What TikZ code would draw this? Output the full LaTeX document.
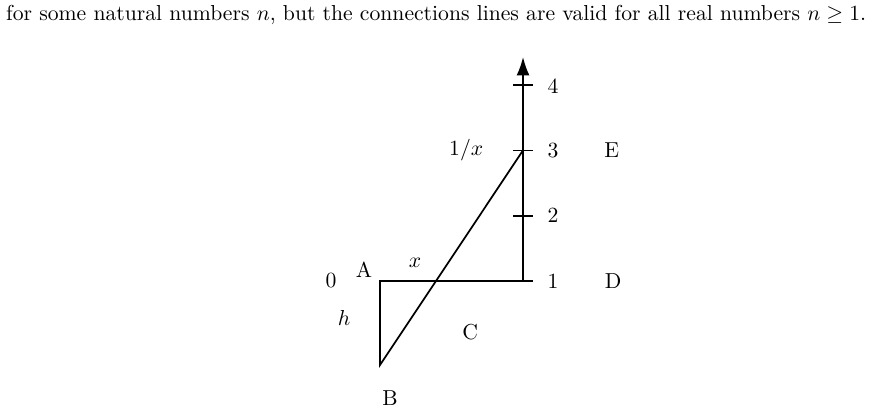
\documentclass[tikz,border=0pt]{standalone}
\usepackage{amsmath}
\usepackage{amssymb}
\usepackage{tikz}
\usetikzlibrary{arrows.meta}

\begin{document}
\begin{tikzpicture}[x=1.06cm,y=1.06cm]
                      \useasboundingbox (-5.819,-2.052) rectangle (7.534,4.303);
                      \tikzstyle{point}=[inner sep=0pt,minimum size=0pt]
                      \tikzstyle{tickmark}=[thick]
                      \node[point] (a) at (0,0) {};
                      \node[point] (b) at (0,-1.286) {};
                      \node[point] (d) at (2.19,0) {};
                      \node[point] (f) at (2.19,1) {};
                      \node[point] (e) at (2.19,2) {};
                      \node[point] (g) at (2.19,3) {};
                      \node[point] (top) at (2.19,3.43) {};
                      \draw[thick,-{Latex[length=8.5pt,width=6pt]}] (d.center) -- (top.center);
                      \draw[thick] (d.center) -- (a.center) -- (b.center) -- (e.center);
                      \foreach \t in {d,f,e,g}
                        \draw[tickmark] (\t.center) ++(-0.15,0) -- ++(0.3,0);
                      \node (one) at (2.65,0) {1};
                      \node (two) at (2.65,1) {2};
                      \node (three) at (2.65,2) {3};
                      \node (four) at (2.65,2.98) {4};
                      \node (lE) at (3.55,2) {E};
                      \node (lD) at (3.57,0) {D};
                      \node (inv) at (1.32,2) {$1/x$};
                      \node (zero) at (-0.75,0) {0};
                      \node (lA) at (-0.245,0.17) {A};
                      \node (lx) at (0.536,0.276) {$x$};
                      \node (lh) at (-0.55,-0.567) {$h$};
                      \node (lC) at (1.38,-0.78) {C};
                      \node (lB) at (0.153,-1.79) {B};
                      \node (note) at (0.86,4.07) {for some natural numbers $n$, but the connections lines are valid for all real numbers $n\geq 1$.};
                  \end{tikzpicture}
\end{document}
